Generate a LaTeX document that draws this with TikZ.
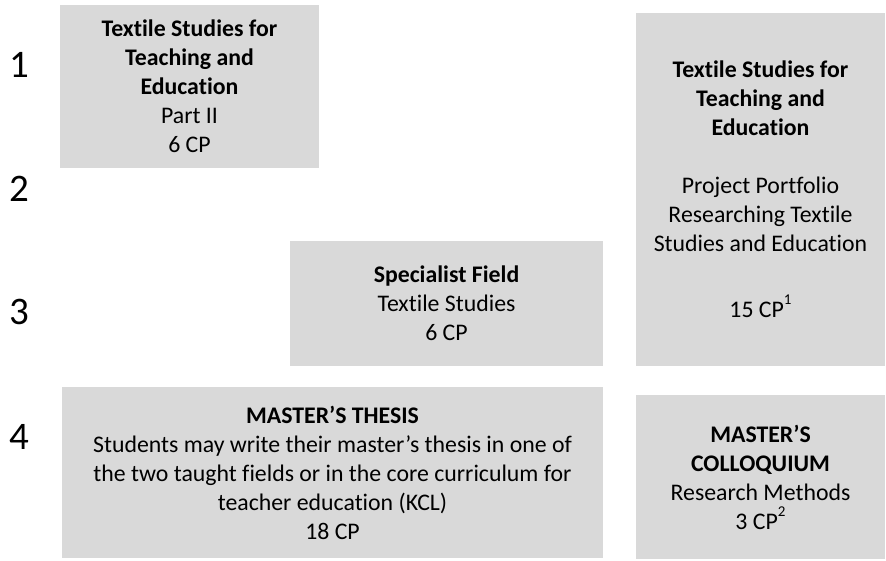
\documentclass[tikz,border=0pt]{standalone}
\usepackage{fontspec}
\setmainfont{Carlito}[Ligatures=NoCommon]
\definecolor{boxgray}{HTML}{D9D9D9}
\newcommand{\cpnote}[1]{\raisebox{13pt}{\fontsize{15}{15}\selectfont #1}}
\tikzset{
  module/.style={fill=boxgray, inner sep=0pt, align=center, font=\fontsize{23.8}{29}\selectfont},
  semester/.style={anchor=base, inner sep=0pt, font=\fontsize{39}{46}\selectfont}
}

\begin{document}
\begin{tikzpicture}[x=1pt, y=-1pt]

\useasboundingbox (0,0) rectangle (886,560);

% Semester numbers
\node[semester] (sem1) at (19,77) {1};
\node[semester] (sem2) at (19,201) {2};
\node[semester] (sem3) at (19,324) {3};
\node[semester] (sem4) at (19,449) {4};

% Modules
\node[module, minimum width=259pt, minimum height=163pt] (partII) at (189.5,86.5)
  {\textbf{Textile Studies for}\\ \textbf{Teaching and}\\ \textbf{Education}\\ Part II\\ 6 CP};
\node[module, minimum width=249pt, minimum height=353pt] (portfolio) at (760.5,189.5)
  {\textbf{Textile Studies for}\\ \textbf{Teaching and}\\ \textbf{Education}\\[29pt]
   Project Portfolio\\ Researching Textile\\ Studies and Education\\[37pt] 15 CP\cpnote{1}};
\node[module, minimum width=313pt, minimum height=125pt] (special) at (446.5,303.5)
  {\textbf{Specialist Field}\\ Textile Studies\\ 6 CP};
\node[module, minimum width=541pt, minimum height=171pt] (thesis) at (332.5,472.5)
  {\textbf{MASTER’S THESIS}\\ Students may write their master’s thesis in one of\\
   the two taught fields or in the core curriculum for\\ teacher education (KCL)\\ 18 CP};
\node[module, minimum width=249pt, minimum height=164pt] (colloq) at (760.5,477)
  {\textbf{MASTER’S}\\ \textbf{COLLOQUIUM}\\ Research Methods\\ 3 CP\cpnote{2}};

\end{tikzpicture}
\end{document}
